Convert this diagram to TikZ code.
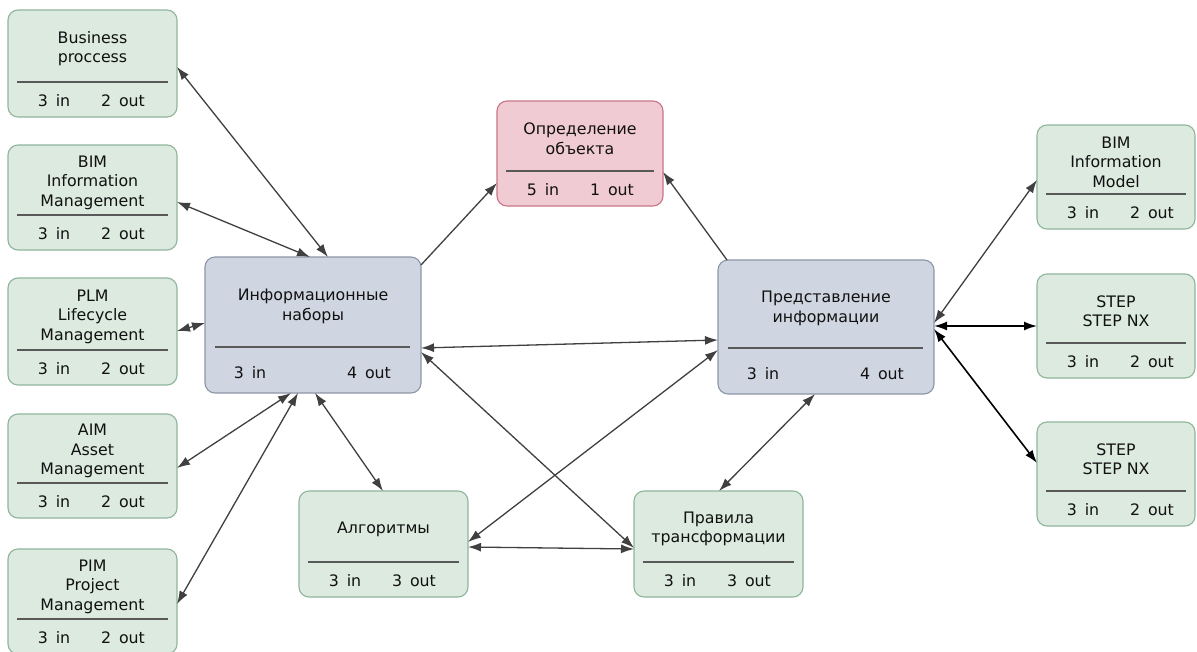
\documentclass[tikz,border=0pt]{standalone}
\usepackage{fontspec}
\setmainfont{DejaVu Sans}
\usetikzlibrary{arrows.meta}
\definecolor{gfillc}{HTML}{DCEADF}
\definecolor{gdraw}{HTML}{8FB59C}
\definecolor{bfillc}{HTML}{D0D6E1}
\definecolor{bdraw}{HTML}{8D96A8}
\definecolor{rfillc}{HTML}{F1CBD3}
\definecolor{rdraw}{HTML}{C97585}
\definecolor{lineg}{HTML}{404040}
\definecolor{txt}{HTML}{111111}
\tikzset{
  boxbase/.style={rectangle, rounded corners=10pt, line width=1.1pt, inner sep=0pt, outer sep=0pt},
  gboxs/.style={boxbase, draw=gdraw, fill=gfillc},
  rboxs/.style={boxbase, draw=rdraw, fill=rfillc},
  bboxs/.style={boxbase, draw=bdraw, fill=bfillc},
  ttl/.style={font=\fontsize{15.8}{19.5}\selectfont, align=center, inner sep=0pt, text=txt},
  num/.style={font=\fontsize{15.8}{19.5}\selectfont, inner sep=0pt, text=txt},
  divl/.style={draw=black!65, line width=1.2pt},
  conn/.style={draw=lineg, line width=1.3pt, >={Latex[length=13pt,width=9pt]}, <->},
  connone/.style={draw=lineg, line width=1.3pt, >={Latex[length=13pt,width=9pt]}, ->},
  connk/.style={draw=black, line width=1.6pt, >={Latex[length=13pt,width=9pt]}, <->},
}
% #1 name, #2 style, #3 x1, #4 y1, #5 x2, #6 y2, #7 title, #8 in, #9 out
\newcommand\mygbox[9]{%
  \pgfmathsetmacro\bxcx{(#3+#5)/2}\pgfmathsetmacro\bxcy{(#4+#6)/2}%
  \pgfmathsetmacro\bxww{#5-#3}\pgfmathsetmacro\bxhh{#6-#4}%
  \pgfmathsetmacro\bxdv{#6-35}\pgfmathsetmacro\bxty{(#4+\bxdv)/2+2.5}%
  \pgfmathsetmacro\bxny{#6-16.5}\pgfmathsetmacro\bxix{#3+46}\pgfmathsetmacro\bxox{#3+115}%
  \node[#2, minimum width=\bxww pt, minimum height=\bxhh pt] (#1) at (\bxcx,\bxcy) {};
  \node[ttl] (#1-t) at (\bxcx,\bxty) {#7};
  \draw[divl] (#3+9,\bxdv) -- (#5-9,\bxdv);
  \node[num] (#1-i) at (\bxix,\bxny) {#8\hspace{0.5em}in};
  \node[num] (#1-o) at (\bxox,\bxny) {#9\hspace{0.5em}out};
}
\newcommand\mybbox[9]{%
  \pgfmathsetmacro\bxcx{(#3+#5)/2}\pgfmathsetmacro\bxcy{(#4+#6)/2}%
  \pgfmathsetmacro\bxww{#5-#3}\pgfmathsetmacro\bxhh{#6-#4}%
  \pgfmathsetmacro\bxdv{#6-46}\pgfmathsetmacro\bxty{(#4+\bxdv)/2+4.5}%
  \pgfmathsetmacro\bxny{#6-20.5}\pgfmathsetmacro\bxix{#3+45}\pgfmathsetmacro\bxox{#5-52}%
  \node[#2, minimum width=\bxww pt, minimum height=\bxhh pt] (#1) at (\bxcx,\bxcy) {};
  \node[ttl] (#1-t) at (\bxcx,\bxty) {#7};
  \draw[divl] (#3+10,\bxdv) -- (#5-11,\bxdv);
  \node[num] (#1-i) at (\bxix,\bxny) {#8\hspace{0.5em}in};
  \node[num] (#1-o) at (\bxox,\bxny) {#9\hspace{0.5em}out};
}
\begin{document}
\begin{tikzpicture}[x=1pt,y=-1pt]
\useasboundingbox (0,0) rectangle (1197,651);
\clip (0,0) rectangle (1197,651);
\fill[white] (0,0) rectangle (1197,651);
% left column
\mygbox{bp}{gboxs}{8}{10}{177}{117}{Business\\proccess}{3}{2}
\mygbox{bimm}{gboxs}{8}{145}{177}{250}{BIM\\Information\\Management}{3}{2}
\mygbox{plm}{gboxs}{8}{278}{177}{385}{PLM\\Lifecycle\\Management}{3}{2}
\mygbox{aim}{gboxs}{8}{414}{177}{518}{AIM\\Asset\\Management}{3}{2}
\mygbox{pim}{gboxs}{8}{549}{177}{654}{PIM\\Project\\Management}{3}{2}
% centre
\mybbox{info}{bboxs}{205}{257}{421}{393}{Информационные\\наборы}{3}{4}
\mybbox{pred}{bboxs}{718}{260}{934}{394}{Представление\\информации}{3}{4}
\mygbox{obj}{rboxs}{497}{101}{663}{206}{Определение\\объекта}{5}{1}
\mygbox{alg}{gboxs}{299}{491}{468}{597}{Алгоритмы}{3}{3}
\mygbox{rules}{gboxs}{634}{491}{803}{597}{Правила\\трансформации}{3}{3}
% right column
\mygbox{bimmod}{gboxs}{1037}{125}{1195}{229}{BIM\\Information\\Model}{3}{2}
\mygbox{stepa}{gboxs}{1037}{274}{1195}{378}{STEP\\STEP NX}{3}{2}
\mygbox{stepb}{gboxs}{1037}{422}{1195}{526}{STEP\\STEP NX}{3}{2}
% connectors
\draw[conn] ([shift={(169,57)}]bp.north west) -- ([shift={(123,0)}]info.north west);
\draw[conn] ([shift={(169,57)}]bimm.north west) -- ([shift={(105,0)}]info.north west);
\draw[conn] ([shift={(169,53)}]plm.north west) -- ([shift={(0,66)}]info.north west);
\draw[conn] ([shift={(169,54)}]aim.north west) -- ([shift={(86,136)}]info.north west);
\draw[conn] ([shift={(169,55)}]pim.north west) -- ([shift={(93,136)}]info.north west);
\draw[conn] ([shift={(110,136)}]info.north west) -- ([shift={(84,0)}]alg.north west);
\draw[connone] ([shift={(216,8)}]info.north west) -- ([shift={(0,82)}]obj.north west);
\draw[connone] ([shift={(9,0)}]pred.north west) -- ([shift={(166,71)}]obj.north west);
\draw[conn] ([shift={(216,91)}]info.north west) -- ([shift={(0,80)}]pred.north west);
\draw[conn] ([shift={(169,51)}]alg.north west) -- ([shift={(0,90)}]pred.north west);
\draw[conn] ([shift={(216,95)}]info.north west) -- ([shift={(0,57)}]rules.north west);
\draw[conn] ([shift={(169,56)}]alg.north west) -- ([shift={(0,58)}]rules.north west);
\draw[conn] ([shift={(97,134)}]pred.north west) -- ([shift={(85,0)}]rules.north west);
\draw[conn] ([shift={(216,63)}]pred.north west) -- ([shift={(0,55)}]bimmod.north west);
\draw[connk] ([shift={(216,66)}]pred.north west) -- ([shift={(0,52)}]stepa.north west);
\draw[connk] ([shift={(216,69)}]pred.north west) -- ([shift={(0,41)}]stepb.north west);
\end{tikzpicture}
\end{document}
